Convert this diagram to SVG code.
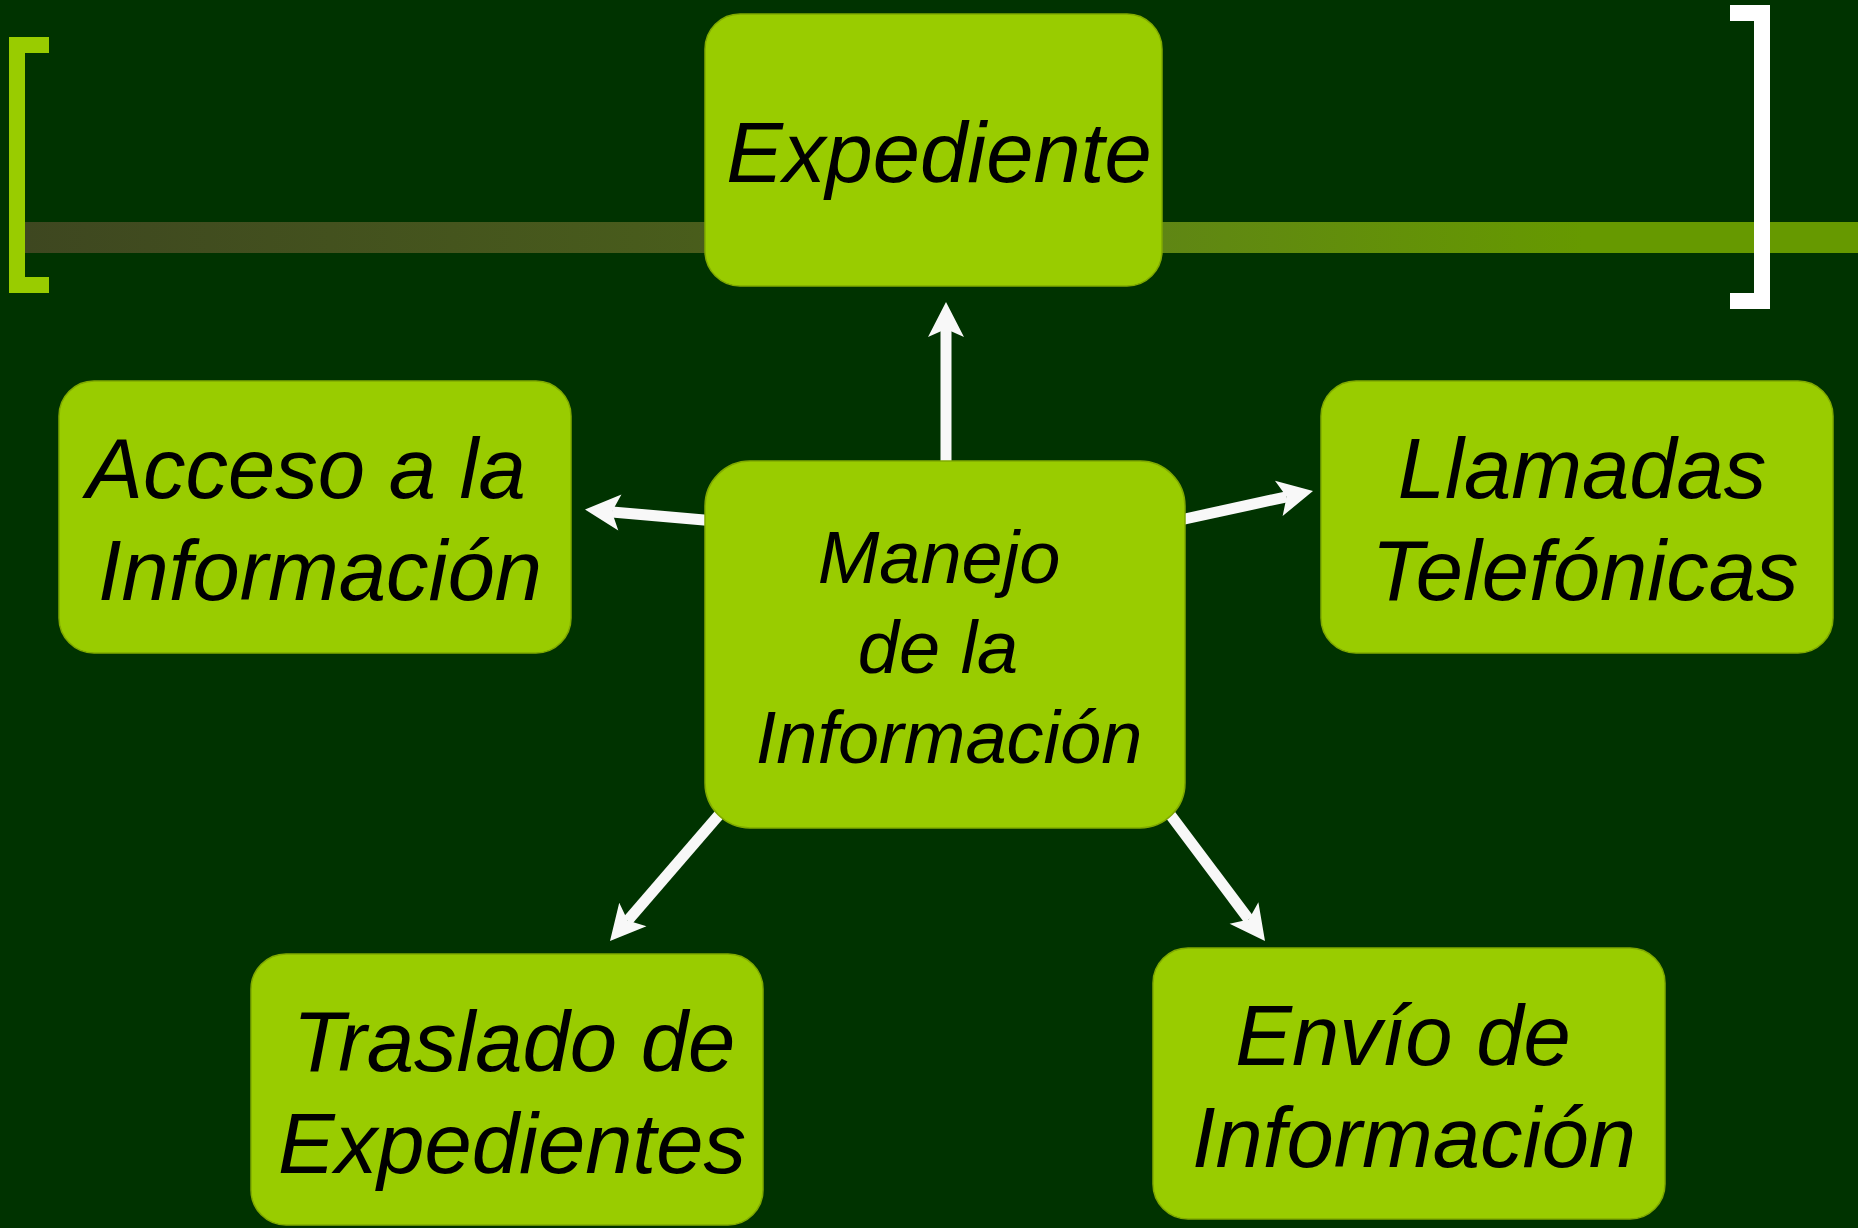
<svg xmlns="http://www.w3.org/2000/svg" xmlns:xlink="http://www.w3.org/1999/xlink" width="1858" height="1228" viewBox="0 0 1858 1228">
<style>
.node rect{fill:#99cc00;stroke:#80aa00;stroke-width:1.5}
.node text{font-family:"Liberation Sans",Arial,sans-serif;font-style:italic;fill:#000;text-anchor:middle}
.big{font-size:85px}
.mid{font-size:74px}
.conn line{stroke:#f8f8f8;stroke-width:11}
.conn use{fill:#f8f8f8}
</style>
<defs>
<linearGradient id="barg" gradientUnits="userSpaceOnUse" x1="25" y1="0" x2="1858" y2="0">
<stop offset="0" stop-color="#3e4720"/>
<stop offset="0.4" stop-color="#4a5f1b"/>
<stop offset="0.62" stop-color="#5f8614"/>
<stop offset="0.85" stop-color="#669900"/>
<stop offset="1" stop-color="#669900"/>
</linearGradient>
<path id="ah" d="M0,0 L-35,-18 L-27,0 L-35,18 Z"/>
</defs>
<rect width="1858" height="1228" fill="#003300"/>
<g id="decor">
<rect x="25" y="222" width="1833" height="31" fill="url(#barg)"/>
<path d="M9,37 H49 V53 H25 V277 H49 V293 H9 Z" fill="#99cc00"/>
<path d="M1730,5 H1770 V309 H1730 V293 H1754 V21 H1730 Z" fill="#ffffff"/>
</g>
<g id="connectors" class="conn">
<line x1="946" y1="461" x2="946" y2="329"/>
<use xlink:href="#ah" href="#ah" transform="translate(946,302) rotate(-90)"/>
<line x1="724" y1="521.7" x2="612" y2="511.9"/>
<use xlink:href="#ah" href="#ah" transform="translate(585,509.5) rotate(185)"/>
<line x1="1166.5" y1="523" x2="1286.6" y2="496.8"/>
<use xlink:href="#ah" href="#ah" transform="translate(1313,491) rotate(-12.3)"/>
<line x1="734.3" y1="797.2" x2="627.7" y2="920.6"/>
<use xlink:href="#ah" href="#ah" transform="translate(610,941) rotate(130.8)"/>
<line x1="1151" y1="789" x2="1248.8" y2="919.4"/>
<use xlink:href="#ah" href="#ah" transform="translate(1265,941) rotate(53.1)"/>
</g>
<g id="node-expediente" class="node">
<rect x="705" y="14" width="457" height="272" rx="35"/>
<text class="big" x="939" y="182">Expediente</text>
</g>
<g id="node-acceso" class="node">
<rect x="59" y="381" width="512" height="272" rx="35"/>
<text class="big" x="306" y="498">Acceso a la</text>
<text class="big" x="320" y="600">Información</text>
</g>
<g id="node-llamadas" class="node">
<rect x="1321" y="381" width="512" height="272" rx="35"/>
<text class="big" x="1582" y="498">Llamadas</text>
<text class="big" x="1585" y="600">Telefónicas</text>
</g>
<g id="node-manejo" class="node">
<rect x="705" y="461" width="480" height="367" rx="45"/>
<text class="mid" x="939" y="583">Manejo</text>
<text class="mid" x="938" y="673">de la</text>
<text class="mid" x="949" y="763">Información</text>
</g>
<g id="node-traslado" class="node">
<rect x="251" y="954" width="512" height="271" rx="35"/>
<text class="big" x="514" y="1071">Traslado de</text>
<text class="big" x="512" y="1173">Expedientes</text>
</g>
<g id="node-envio" class="node">
<rect x="1153" y="948" width="512" height="271" rx="35"/>
<text class="big" x="1403" y="1065">Envío de</text>
<text class="big" x="1414" y="1167">Información</text>
</g>
</svg>
